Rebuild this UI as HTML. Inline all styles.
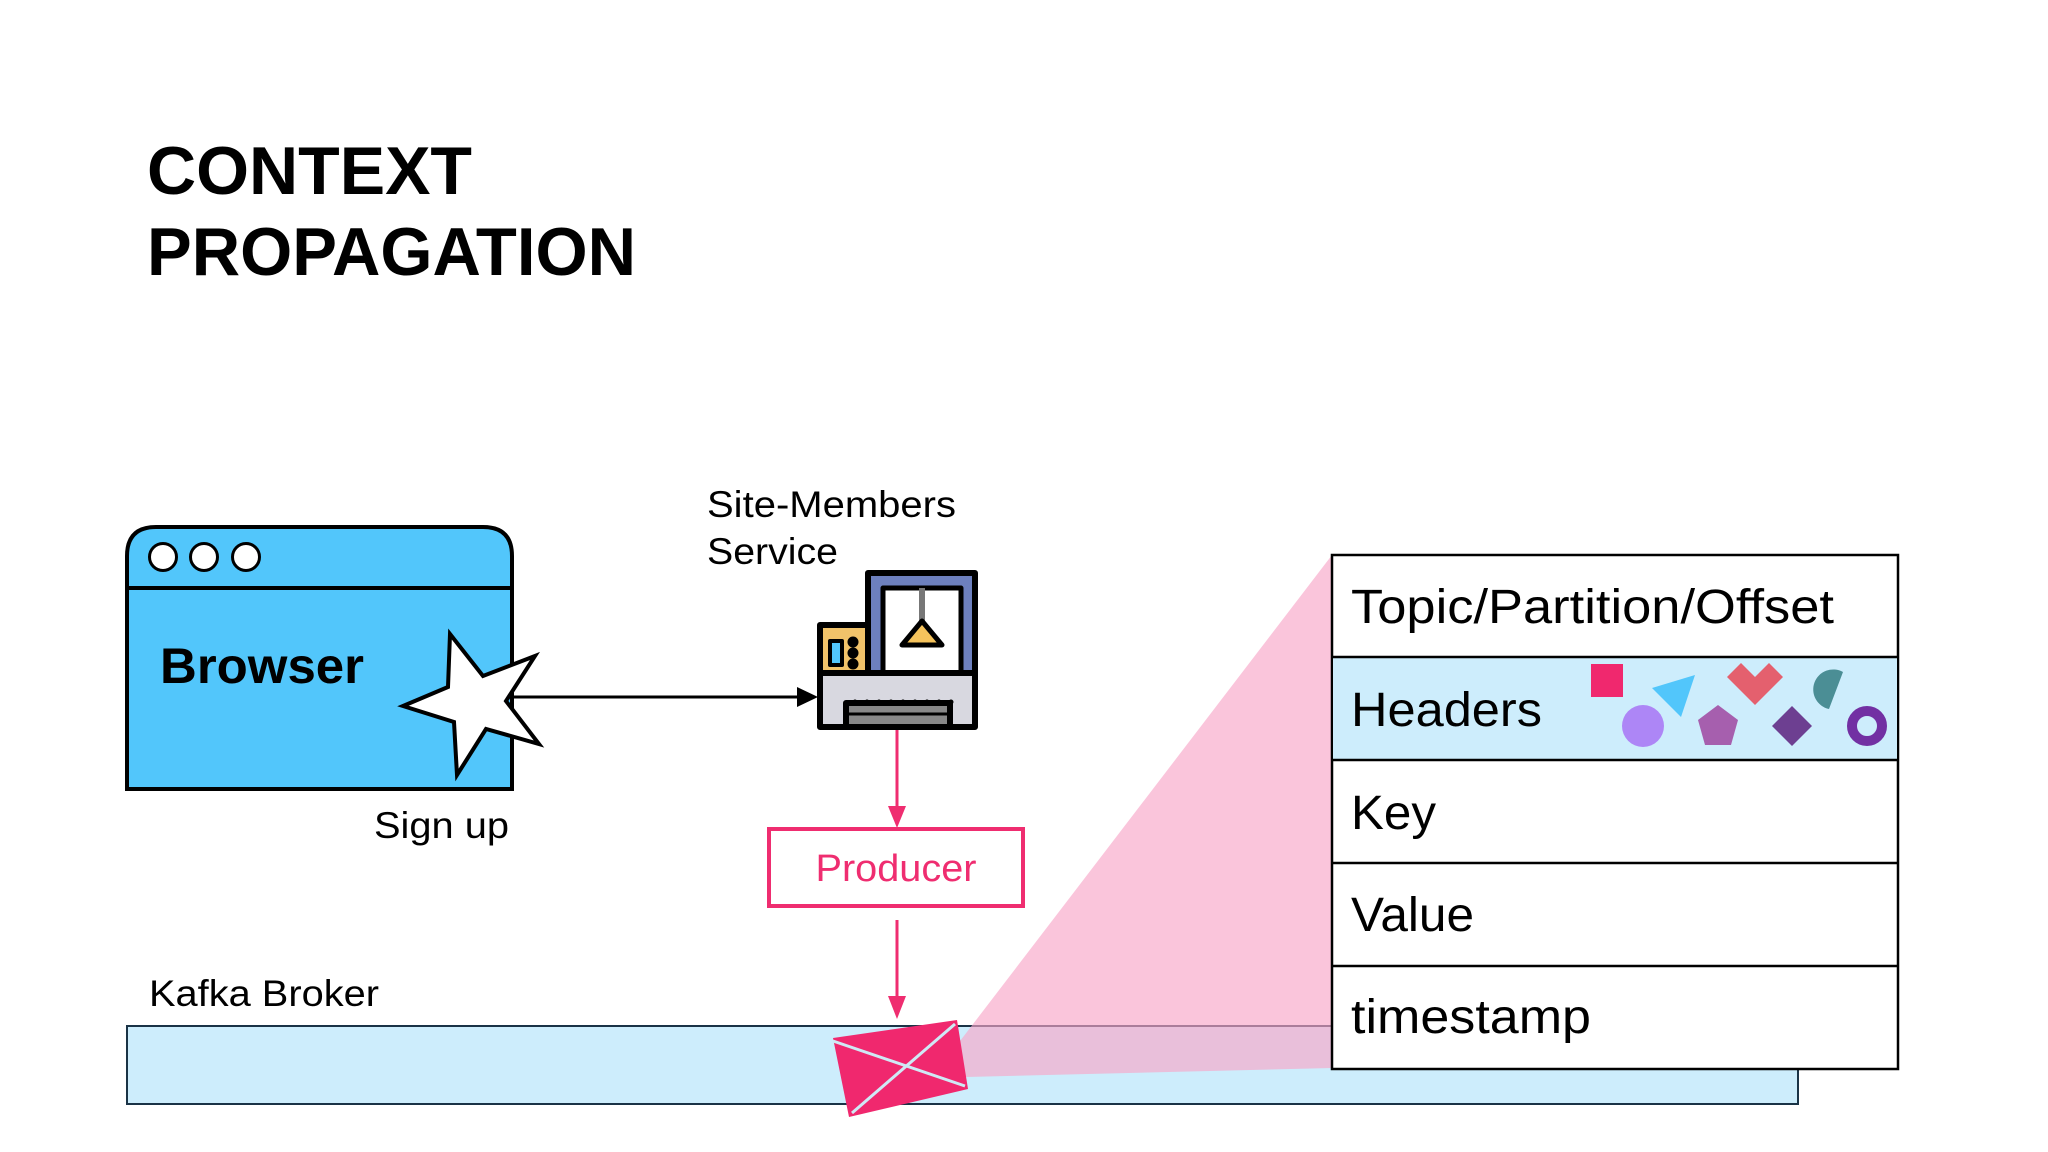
<!DOCTYPE html>
<html><head><meta charset="utf-8"><style>
html,body{margin:0;padding:0;background:#fff}
svg{display:block}
text{font-family:"Liberation Sans",Arial,sans-serif}
</style></head><body>
<svg width="2048" height="1152" viewBox="0 0 2048 1152" xmlns="http://www.w3.org/2000/svg">
<rect width="2048" height="1152" fill="#fff"/>
<text x="147" y="194" font-size="68" font-weight="bold" fill="#000" textLength="325" lengthAdjust="spacingAndGlyphs">CONTEXT</text>
<text x="147" y="275" font-size="68" font-weight="bold" fill="#000" textLength="489" lengthAdjust="spacingAndGlyphs">PROPAGATION</text>

<!-- Browser -->
<path d="M127,789 V556 Q127,527 156,527 H483 Q512,527 512,556 V789 Z" fill="#52c6fb" stroke="#000" stroke-width="4"/>
<line x1="127" y1="588" x2="512" y2="588" stroke="#000" stroke-width="4"/>
<circle cx="163" cy="557" r="13.5" fill="#fff" stroke="#000" stroke-width="3"/>
<circle cx="204" cy="557" r="13.5" fill="#fff" stroke="#000" stroke-width="3"/>
<circle cx="246" cy="557" r="13.5" fill="#fff" stroke="#000" stroke-width="3"/>
<text x="160" y="683" font-size="50" font-weight="bold" fill="#000" textLength="204" lengthAdjust="spacingAndGlyphs">Browser</text>
<polygon points="450,634 483,676 535,656 506,701 539,744 486,729 457,775 454,722 403,706 448,687" fill="#fff" stroke="#000" stroke-width="4" stroke-linejoin="miter"/>
<text x="374" y="838" font-size="37" fill="#000" textLength="135" lengthAdjust="spacingAndGlyphs">Sign up</text>

<!-- arrow -->
<line x1="513" y1="697" x2="800" y2="697" stroke="#000" stroke-width="3"/>
<polygon points="797,687 818,697 797,707" fill="#000"/>

<text x="707" y="517" font-size="37" fill="#000" textLength="249" lengthAdjust="spacingAndGlyphs">Site-Members</text>
<text x="707" y="564" font-size="37" fill="#000" textLength="131" lengthAdjust="spacingAndGlyphs">Service</text>

<!-- server icon -->
<g transform="translate(818,573)" stroke="#000" stroke-width="6" stroke-linejoin="round">
<rect x="50" y="0" width="107" height="110" fill="#6d80be"/>
<rect x="65" y="15" width="78" height="95" fill="#fff" stroke-width="5"/>
<line x1="104" y1="15" x2="104" y2="50" stroke="#777" stroke-width="6"/>
<polygon points="104,48 84,72 124,72" fill="#f5c35c" stroke-width="5"/>
<rect x="2" y="52" width="48" height="58" fill="#f1c36a"/>
<rect x="12" y="68" width="12" height="24" fill="#52c6fb" stroke-width="4"/>
<circle cx="35" cy="69" r="2.5" fill="#000"/><circle cx="35" cy="80" r="2.5" fill="#000"/><circle cx="35" cy="91" r="2.5" fill="#000"/>
<rect x="2" y="100" width="155" height="54" fill="#d8d8e0"/>
<rect x="28" y="130" width="104" height="24" fill="#888"/>
<line x1="30" y1="141" x2="130" y2="141" stroke="#000" stroke-width="3"/>
</g>
<g fill="#000">
<circle cx="855" cy="702" r="2.5"/><circle cx="867" cy="702" r="2.5"/><circle cx="879" cy="702" r="2.5"/><circle cx="891" cy="702" r="2.5"/><circle cx="903" cy="702" r="2.5"/><circle cx="915" cy="702" r="2.5"/><circle cx="927" cy="702" r="2.5"/><circle cx="939" cy="702" r="2.5"/><circle cx="951" cy="702" r="2.5"/>
</g>

<!-- pink arrows -->
<line x1="897" y1="730" x2="897" y2="810" stroke="#ef2d70" stroke-width="3"/>
<polygon points="888,806 897,828 906,806" fill="#ef2d70"/>
<rect x="769" y="829" width="254" height="77" fill="#fff" stroke="#ef2d70" stroke-width="4"/>
<text x="896" y="881" font-size="38" fill="#ef2d70" text-anchor="middle" textLength="161" lengthAdjust="spacingAndGlyphs">Producer</text>
<line x1="897" y1="920" x2="897" y2="1000" stroke="#ef2d70" stroke-width="3"/>
<polygon points="888,996 897,1019 906,996" fill="#ef2d70"/>

<text x="149" y="1006" font-size="37" fill="#000" textLength="230" lengthAdjust="spacingAndGlyphs">Kafka Broker</text>
<rect x="127" y="1026" width="1671" height="78" fill="#cdedfc" stroke="#1a3346" stroke-width="2"/>

<!-- projection -->
<polygon points="957,1045 1332,555 1332,1068 966,1077" fill="#f7a6c8" fill-opacity="0.65"/>

<!-- envelope -->
<polygon points="833,1038 957,1020 968,1089 849,1117" fill="#f0286e"/>
<line x1="833" y1="1041" x2="965" y2="1086" stroke="#cfe9f5" stroke-width="3"/>
<line x1="955" y1="1024" x2="852" y2="1113" stroke="#cfe9f5" stroke-width="3"/>

<!-- table -->
<rect x="1332" y="555" width="566" height="514" fill="#fff" stroke="#000" stroke-width="2.5"/>
<rect x="1333" y="657" width="564" height="103" fill="#cdedfc"/>
<g stroke="#000" stroke-width="2.5">
<line x1="1332" y1="657" x2="1898" y2="657"/>
<line x1="1332" y1="760" x2="1898" y2="760"/>
<line x1="1332" y1="863" x2="1898" y2="863"/>
<line x1="1332" y1="966" x2="1898" y2="966"/>
</g>
<g font-size="48" fill="#000">
<text x="1351" y="623" textLength="483" lengthAdjust="spacingAndGlyphs">Topic/Partition/Offset</text>
<text x="1351" y="726" textLength="191" lengthAdjust="spacingAndGlyphs">Headers</text>
<text x="1351" y="829" textLength="85" lengthAdjust="spacingAndGlyphs">Key</text>
<text x="1351" y="931" textLength="123" lengthAdjust="spacingAndGlyphs">Value</text>
<text x="1351" y="1033" textLength="240" lengthAdjust="spacingAndGlyphs">timestamp</text>
</g>
<!-- header shapes -->
<rect x="1591" y="664" width="32" height="33" fill="#f0286e"/>
<polygon points="1652,688 1695,675 1681,717" fill="#52c6fb"/>
<circle cx="1643" cy="726" r="21" fill="#ad86f6"/>
<polygon points="1718,705 1738,720 1731,745 1705,745 1698,720" fill="#a65fae"/>
<polygon points="1727,677 1741,663 1755,677 1769,663 1783,677 1755,705" fill="#e4606e"/>
<polygon points="1792,706 1812,726 1792,746 1772,726" fill="#6d3f91"/>
<path d="M1843,672 A20,20 0 1 0 1829,709 Z" fill="#4b8e95"/>
<circle cx="1867" cy="726" r="15" fill="none" stroke="#7230a3" stroke-width="10"/>
</svg>
</body></html>
